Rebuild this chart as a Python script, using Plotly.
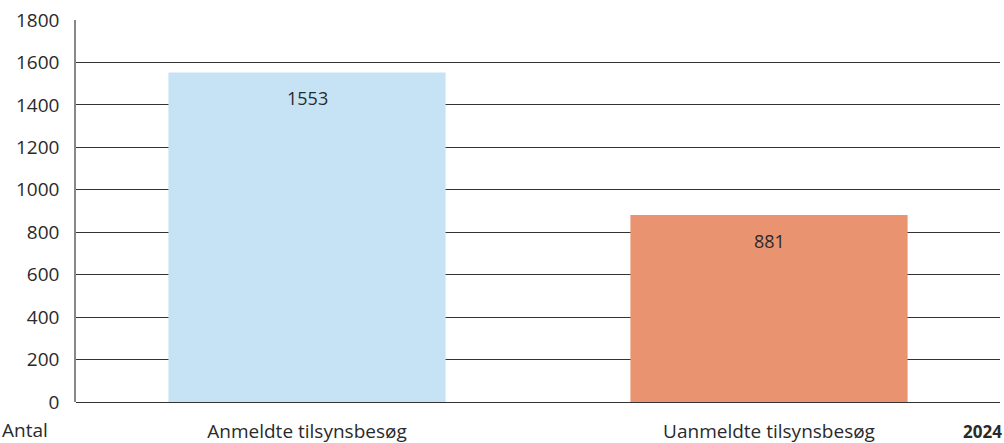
import plotly.graph_objects as go

categories = ["Anmeldte tilsynsbesøg", "Uanmeldte tilsynsbesøg"]
values = [1553, 881]
colors = ["#C6E3F6", "#EA9370"]
y_ticks = [0, 200, 400, 600, 800, 1000, 1200, 1400, 1600, 1800]

FONT = "'Open Sans', sans-serif"
TXT = "#2a2a2a"

fig = go.Figure()
fig.add_trace(go.Bar(
    x=categories, y=values, marker_color=colors, marker_line_width=0,
    width=0.6, hoverinfo="skip"
))
for c, v in zip(categories, values):
    fig.add_annotation(x=c, y=v, text=str(v), showarrow=False, yshift=-26,
                       font=dict(size=18, color=TXT, family=FONT))

fig.add_annotation(xref="paper", yref="paper", x=-0.082, y=0, yshift=-43,
                   text="Antal", showarrow=False, xanchor="left",
                   font=dict(size=19, color=TXT, family=FONT))
fig.add_annotation(xref="paper", yref="paper", x=1.004, y=0, yshift=-43,
                   text="<b>2024</b>", showarrow=False, xanchor="right",
                   font=dict(size=17, color=TXT, family=FONT))

fig.update_layout(
    width=1004, height=443,
    margin=dict(l=76, r=4, t=20, b=41, autoexpand=False),
    plot_bgcolor="white", paper_bgcolor="white",
    showlegend=False,
    bargap=0.4,
    font=dict(family=FONT, size=19, color=TXT),
)
fig.update_yaxes(range=[0, 1800], tickvals=y_ticks, showgrid=True,
                 gridcolor="#333", gridwidth=1, zeroline=True,
                 zerolinecolor="#333", zerolinewidth=1.2,
                 showline=True, linecolor="#888", linewidth=1.5,
                 ticks="", ticklabelstandoff=11, automargin=False,
                 tickfont=dict(size=19, color=TXT))
fig.update_xaxes(showgrid=False, showline=False, ticks="", automargin=False,
                 ticklabelstandoff=16, tickfont=dict(size=19, color=TXT))

fig.write_html("out.html", config={"displayModeBar": False},
               post_script="document.body.style.margin='0';document.body.style.overflow='hidden';")
